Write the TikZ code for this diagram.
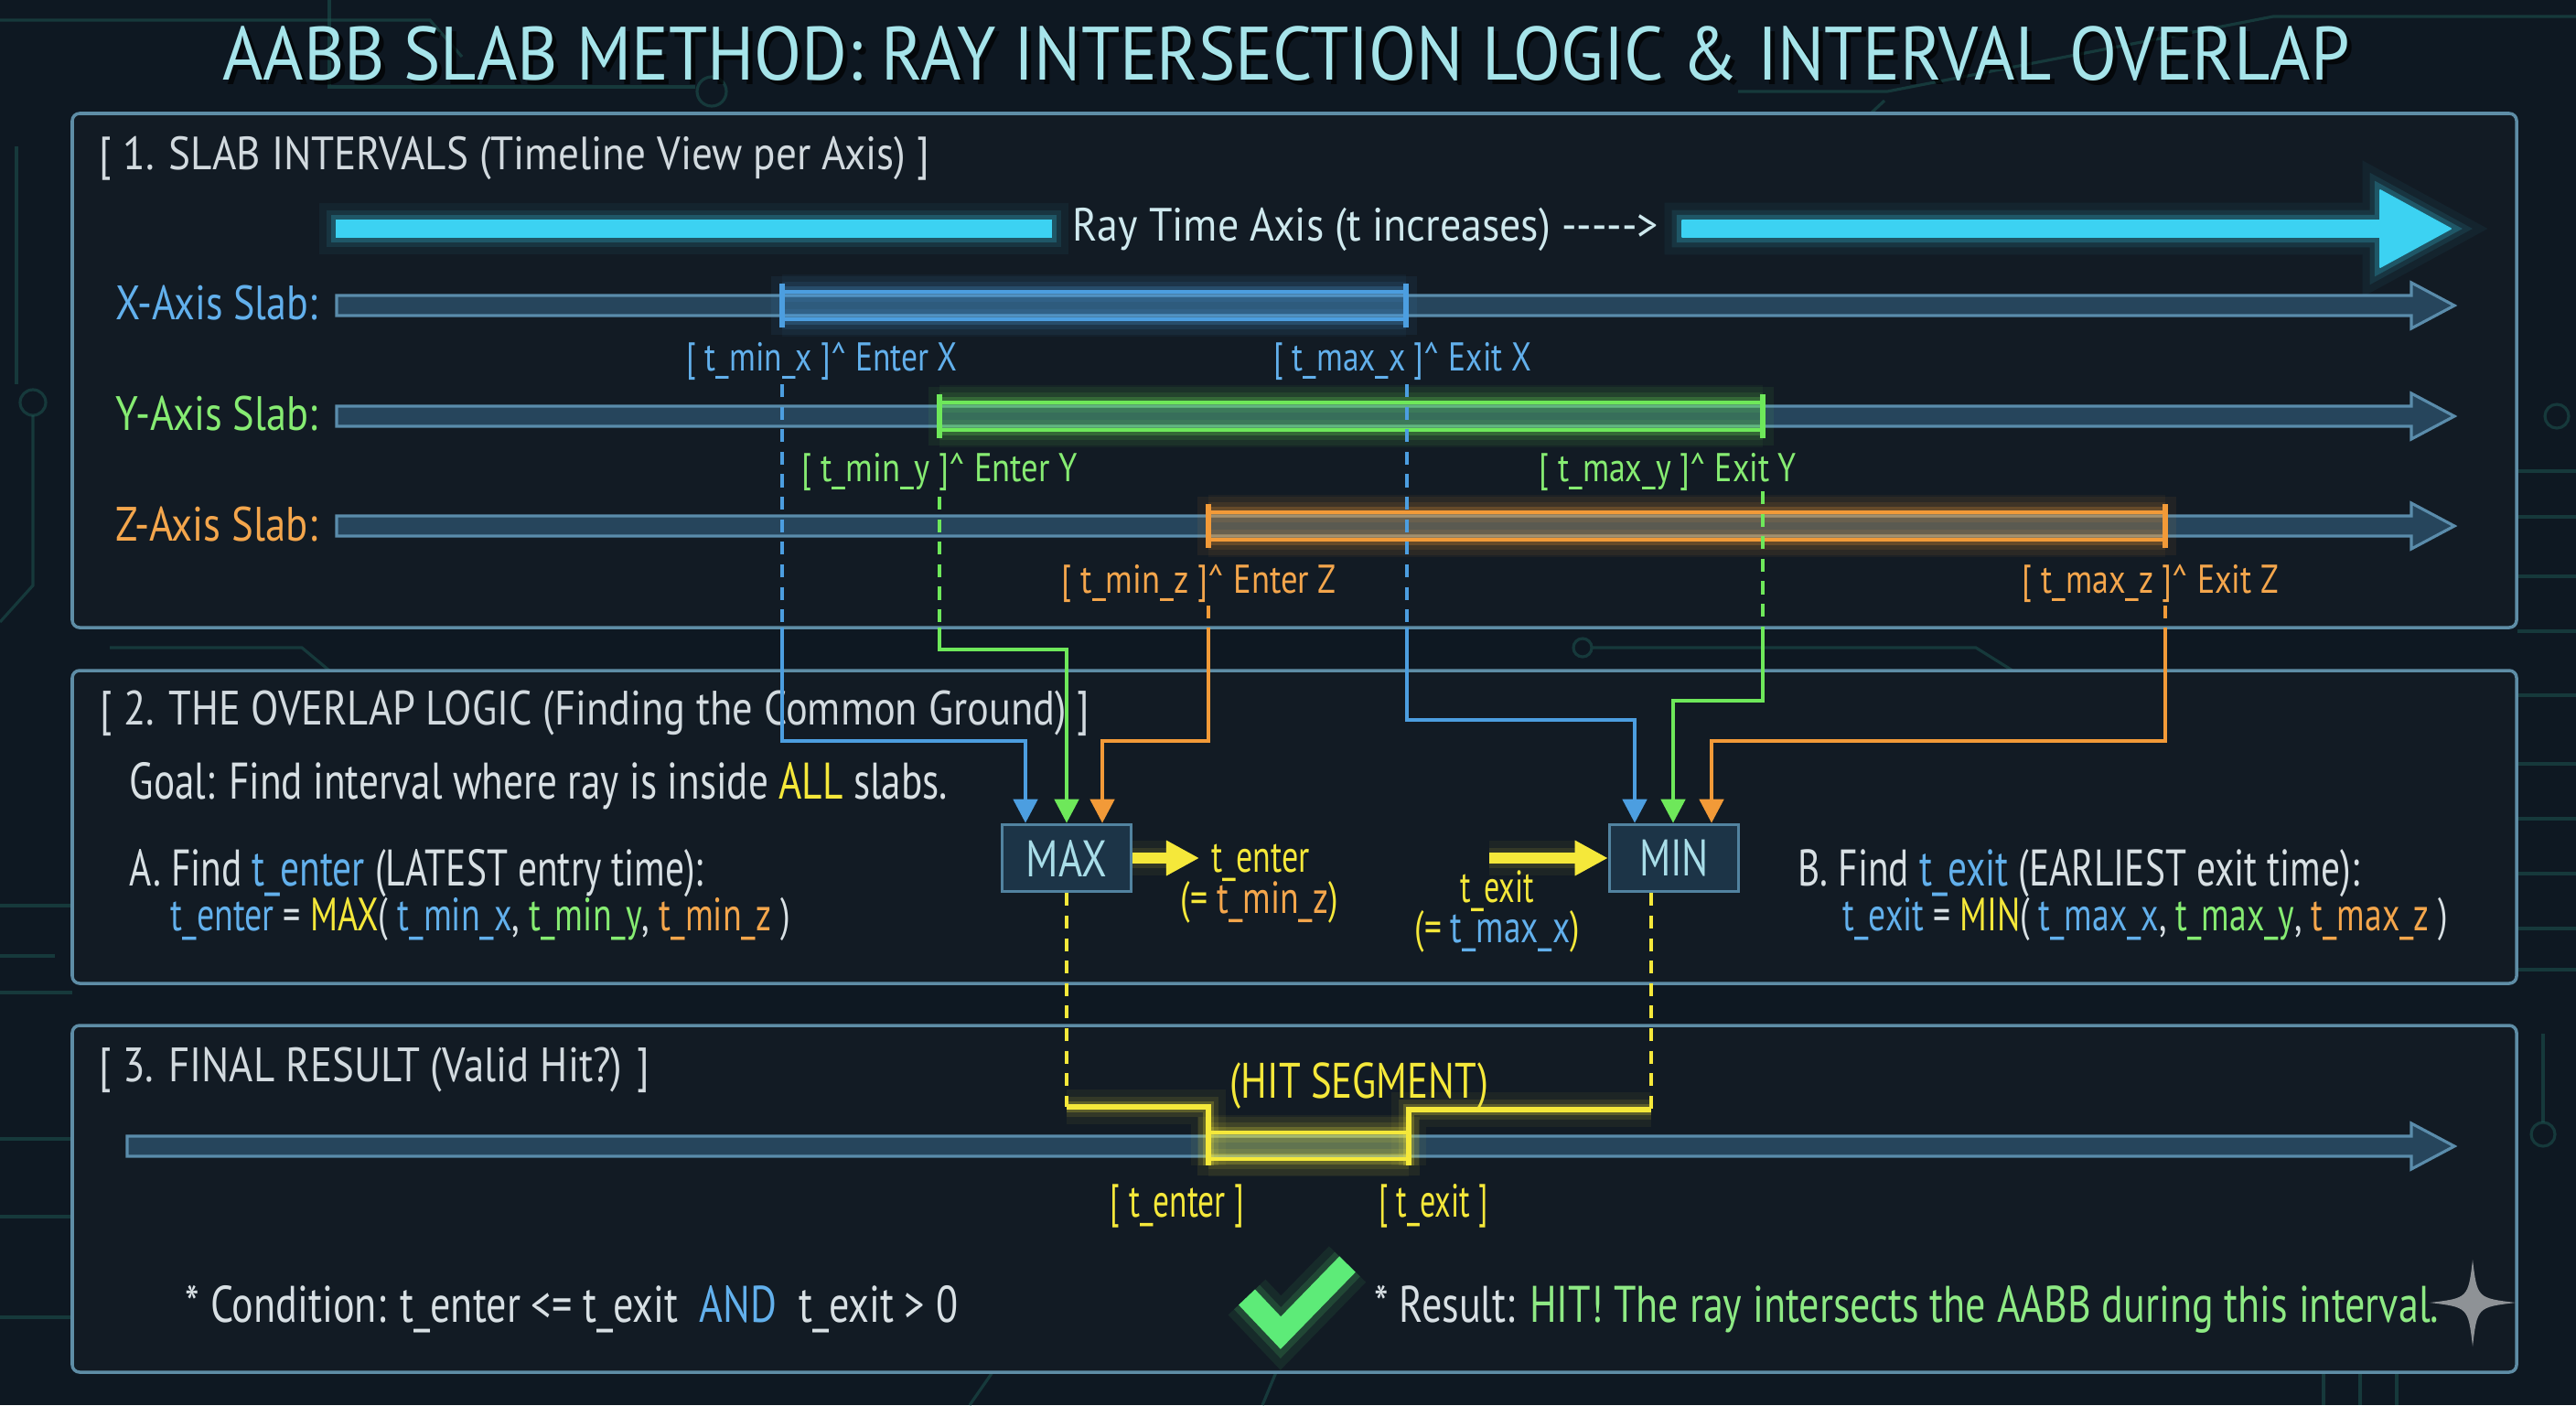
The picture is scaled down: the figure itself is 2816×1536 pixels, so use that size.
\documentclass[tikz,border=0pt]{standalone}
\usepackage{fontspec}
\usepackage{graphicx}
\setmainfont{PT Sans}
\usetikzlibrary{arrows.meta}
\definecolor{bg}{HTML}{0E1822}
\definecolor{cTrace}{HTML}{1F5A55}
\definecolor{cPanel}{HTML}{121B24}
\definecolor{cPanelB}{HTML}{5E8DA6}
\definecolor{cBar}{HTML}{26455C}
\definecolor{cBarB}{HTML}{5A8CAB}
\definecolor{cTitle}{HTML}{A6E4EA}
\definecolor{cHead}{HTML}{D2DADF}
\definecolor{cTxt}{HTML}{D8E0E4}
\definecolor{cX}{HTML}{4C9EE0}
\definecolor{cXt}{HTML}{62B0EC}
\definecolor{cY}{HTML}{6EE85A}
\definecolor{cYt}{HTML}{86EC72}
\definecolor{cZ}{HTML}{F29A38}
\definecolor{cZt}{HTML}{F4A64C}
\definecolor{cYel}{HTML}{F5E83A}
\definecolor{cRay}{HTML}{3CD2F2}
\definecolor{cRayT}{HTML}{CFE9EE}
\definecolor{cBox}{HTML}{1C3447}
\definecolor{cBoxB}{HTML}{5283A0}
\definecolor{cBoxT}{HTML}{A8DDE8}
\definecolor{cRes}{HTML}{8EEA84}
\definecolor{cCheck}{HTML}{5DEB78}
\definecolor{cStar}{HTML}{8E9296}
\newsavebox\fitbox
\newcommand\fitw[2]{\sbox\fitbox{#2}\pgfmathsetmacro\fitfac{#1*0.284528/\the\wd\fitbox}\scalebox{\fitfac}[1]{\usebox\fitbox}}
\newcommand\fsz[1]{\fontsize{#1}{#1}\selectfont}
\newcommand\slabbar[2]{\draw[bar] (#2,{#1-11}) -- (2636,{#1-11}) -- (2636,{#1-25}) -- (2683,#1) -- (2636,{#1+25}) -- (2636,{#1+11}) -- (#2,{#1+11}) -- cycle;}
\newcommand\slabint[4]{%
  \fill[#1, opacity=.07] ({#2-12},{#4-32}) rectangle ({#3+12},{#4+32});
  \fill[#1, opacity=.16] (#2,{#4-15}) rectangle (#3,{#4+15});
  \draw[#1, line width=1.3pt, glow=#1] (#2,{#4-15}) -- (#3,{#4-15}) (#2,{#4+15}) -- (#3,{#4+15});
  \draw[#1, line width=1.6pt] (#2,{#4-24}) -- (#2,{#4+24}) (#3,{#4-24}) -- (#3,{#4+24});}
\begin{document}
\begin{tikzpicture}[x=0.01cm,y=-0.01cm,
  panel/.style={draw=cPanelB, line width=1pt, fill=cPanel, rounded corners=0.08cm},
  bar/.style={draw=cBarB, line width=0.9pt, fill=cBar},
  txt/.style={inner sep=0pt, text=cTxt, anchor=base west},
  glow/.style={preaction={draw=#1,line width=11pt,draw opacity=.05},preaction={draw=#1,line width=6.5pt,draw opacity=.1},preaction={draw=#1,line width=3.5pt,draw opacity=.22}},
  dashline/.style={draw=#1, line width=1pt, dash pattern=on 4pt off 3pt},
  conn/.style={draw=#1, line width=1.3pt, -{Triangle[length=2.6mm,width=2.6mm]}},
  yarrow/.style={draw=cYel, line width=3.4pt, -{Triangle[length=3.6mm,width=3.6mm]}, glow=cYel},
  opbox/.style={draw=cBoxB, line width=1pt, fill=cBox, minimum width=1.41cm, minimum height=0.73cm, inner sep=0pt, text=cBoxT, font=\fsz{16}},
]
\useasboundingbox (0,0) rectangle (2816,1536);
\fill[bg] (0,0) rectangle (2816,1536);
% background circuit traces
\begin{scope}[draw=cTrace, line width=0.9pt, draw opacity=.5]
  \draw (0,22) -- (470,22) -- (505,62);
  \draw (360,0) -- (360,95) -- (760,95);
  \draw (778,100) circle (16);
  \draw (18,160) -- (18,420);
  \draw (36,440) circle (14);
  \draw (36,454) -- (36,640) -- (0,680);
  \draw (0,990) -- (79,990);
  \draw (0,1045) -- (60,1045);
  \draw (0,1085) -- (79,1085);
  \draw (0,1245) -- (79,1245);
  \draw (0,1330) -- (79,1330);
  \draw (0,1440) -- (79,1440);
  \draw (120,708) -- (330,708) -- (360,733);
  \draw (2816,18) -- (2485,18) -- (2063,100) -- (1900,100);
  \draw (2060,110) -- (2045,124);
  \draw (2752,515) -- (2816,515);
  \draw (2752,565) -- (2816,565);
  \draw (2752,630) -- (2816,630);
  \draw (2752,690) -- (2816,690);
  \draw (2752,760) -- (2816,760);
  \draw (2752,835) -- (2816,835);
  \draw (2752,895) -- (2816,895);
  \draw (2752,955) -- (2816,955);
  \draw (2752,1015) -- (2816,1015);
  \draw (2752,1060) -- (2816,1060);
  \draw (2795,455) circle (13);
  \draw (2780,1240) circle (13);
  \draw (2780,1227) -- (2780,1130);
  \draw (1730,708) circle (10) (1740,708) -- (2160,708) -- (2200,733);
  \draw (2540,1500) -- (2540,1536) (2580,1500) -- (2580,1536) (2620,1500) -- (2620,1536);
  \draw (1060,1536) -- (1085,1500) (1380,1536) -- (1395,1500);
\end{scope}
% title
\node[inner sep=0pt, anchor=base, text=black, opacity=.7] (titleshadow) at (1411,92) {\fsz{23.5}\fitw{2324}{AABB SLAB METHOD: RAY INTERSECTION LOGIC \& INTERVAL OVERLAP}};
\node[inner sep=0pt, anchor=base, text=cTitle] (title) at (1406,87) {\fsz{23.5}\fitw{2324}{AABB SLAB METHOD: RAY INTERSECTION LOGIC \& INTERVAL OVERLAP}};
% panels
\draw[panel] (79,124) rectangle (2751,686);
\draw[panel] (79,733) rectangle (2751,1075);
\draw[panel] (79,1121) rectangle (2751,1500);
% panel 1
\node[txt, text=cHead] (h1) at (108,185) {\fsz{14.5}\fitw{907}{[ 1. SLAB INTERVALS (Timeline View per Axis) ]}};
\node[txt, text=cRayT] (raytxt) at (1172,263) {\fsz{14.5}\fitw{640}{Ray Time Axis (t increases) -{}-{}-{}-{}-{}>}};
\draw[draw=cRay, fill=cRay, line width=0.5pt, glow=cRay] (368,241) rectangle (1149,259);
\draw[draw=cRay, fill=cRay, line width=0.5pt, line join=round, glow=cRay] (1839,241) -- (2602,241) -- (2602,208) -- (2679,250) -- (2602,292) -- (2602,259) -- (1839,259) -- cycle;
\node[txt, text=cXt] (labx) at (126,349) {\fsz{15}\fitw{220}{X-Axis Slab:}};
\node[txt, text=cYt] (laby) at (126,470) {\fsz{15}\fitw{220}{Y-Axis Slab:}};
\node[txt, text=cZt] (labz) at (126,591) {\fsz{15}\fitw{220}{Z-Axis Slab:}};
\slabbar{334}{368}
\slabbar{455}{368}
\slabbar{575}{368}
\slabint{cX}{855}{1537}{334}
\slabint{cY}{1027}{1927}{455}
\slabint{cZ}{1321}{2367}{575}
\node[txt, text=cXt] (lxmin) at (750,405) {\fsz{12.5}\fitw{296}{[ t\_min\_x ]\textasciicircum{} Enter X}};
\node[txt, text=cXt] (lxmax) at (1392,405) {\fsz{12.5}\fitw{281}{[ t\_max\_x ]\textasciicircum{} Exit X}};
\node[txt, text=cYt] (lymin) at (876,526) {\fsz{12.5}\fitw{301}{[ t\_min\_y ]\textasciicircum{} Enter Y}};
\node[txt, text=cYt] (lymax) at (1682,526) {\fsz{12.5}\fitw{281}{[ t\_max\_y ]\textasciicircum{} Exit Y}};
\node[txt, text=cZt] (lzmin) at (1160,648) {\fsz{12.5}\fitw{300}{[ t\_min\_z ]\textasciicircum{} Enter Z}};
\node[txt, text=cZt] (lzmax) at (2210,648) {\fsz{12.5}\fitw{280}{[ t\_max\_z ]\textasciicircum{} Exit Z}};
% connector coordinates
\coordinate (xminA) at (855,420);  \coordinate (xminB) at (855,686);
\coordinate (yminA) at (1027,543); \coordinate (yminB) at (1027,686);
\coordinate (zminA) at (1321,662); \coordinate (zminB) at (1321,686);
\coordinate (xmaxA) at (1538,420); \coordinate (xmaxB) at (1538,686);
\coordinate (ymaxA) at (1927,537); \coordinate (ymaxB) at (1927,686);
\coordinate (zmaxA) at (2367,662); \coordinate (zmaxB) at (2367,686);
\coordinate (mxa) at (1121,810); \coordinate (mya) at (1166,710); \coordinate (mza) at (1205,810);
\coordinate (nxa) at (1787,787); \coordinate (nya) at (1829,766); \coordinate (nza) at (1871,810);
% panel 2
\node[txt, text=cHead] (h2) at (109,792) {\fsz{15}\fitw{1081}{[ 2. THE OVERLAP LOGIC (Finding the Common Ground) ]}};
\node[txt] (goal) at (141,873) {\fsz{16}\fitw{894}{Goal: Find interval where ray is inside \textcolor{cYel}{ALL} slabs.}};
\node[txt] (afind) at (141,968) {\fsz{16}\fitw{627}{A. Find \textcolor{cXt}{t\_enter} (LATEST entry time):}};
\node[txt] (aform) at (186,1017) {\fsz{14.5}\fitw{677}{\textcolor{cXt}{t\_enter} = \textcolor{cYel}{MAX}( \textcolor{cXt}{t\_min\_x}, \textcolor{cYt}{t\_min\_y}, \textcolor{cZt}{t\_min\_z} )}};
\node[txt] (bfind) at (1965,968) {\fsz{16}\fitw{613}{B. Find \textcolor{cXt}{t\_exit} (EARLIEST exit time):}};
\node[txt] (bform) at (2014,1017) {\fsz{14.5}\fitw{661}{\textcolor{cXt}{t\_exit} = \textcolor{cYel}{MIN}( \textcolor{cXt}{t\_max\_x}, \textcolor{cYt}{t\_max\_y}, \textcolor{cZt}{t\_max\_z} )}};
\node[opbox] (maxbox) at (1166,938) {\fitw{88}{MAX}};
\node[opbox] (minbox) at (1830,938) {\fitw{76}{MIN}};
\node[txt, text=cYel] (tenter) at (1324,953) {\fsz{14}\fitw{107}{t\_enter}};
\node[txt, text=cYel] (tminz) at (1290,998) {\fsz{14}\fitw{172}{(= \textcolor{cZt}{t\_min\_z})}};
\node[txt, text=cYel] (texit) at (1596,986) {\fsz{14}\fitw{80}{t\_exit}};
\node[txt, text=cYel] (tmaxx) at (1546,1030) {\fsz{14}\fitw{180}{(= \textcolor{cXt}{t\_max\_x})}};
\coordinate (texitTail) at (1628,938);
% connectors
\draw[dashline=cX] (xminA) -- (xminB);
\draw[dashline=cY] (yminA) -- (yminB);
\draw[dashline=cZ] (zminA) -- (zminB);
\draw[dashline=cX] (xmaxA) -- (xmaxB);
\draw[dashline=cY] (ymaxA) -- (ymaxB);
\draw[dashline=cZ] (zmaxA) -- (zmaxB);
\draw[conn=cX] (xminB) |- (mxa) -- (maxbox.north -| mxa);
\draw[conn=cY] (yminB) |- (mya) -- (maxbox.north -| mya);
\draw[conn=cZ] (zminB) |- (mza) -- (maxbox.north -| mza);
\draw[conn=cX] (xmaxB) |- (nxa) -- (minbox.north -| nxa);
\draw[conn=cY] (ymaxB) |- (nya) -- (minbox.north -| nya);
\draw[conn=cZ] (zmaxB) |- (nza) -- (minbox.north -| nza);
\draw[yarrow, shorten >=1.3mm] (maxbox.east) -- (tenter.west |- maxbox.east);
\draw[yarrow] (texitTail) -- (minbox.west);
% panel 3
\node[txt, text=cHead] (h3) at (108,1182) {\fsz{15}\fitw{601}{[ 3. FINAL RESULT (Valid Hit?) ]}};
\slabbar{1253}{139}
\coordinate (hitL) at (1166,1210);
\coordinate (hitTL) at (1321,1274);
\coordinate (hitTR) at (1540,1274);
\coordinate (hitR) at (1805,1213);
\fill[cYel, opacity=.07] (1309,1221) rectangle (1552,1285);
\fill[cYel, opacity=.2] (1321,1238) rectangle (1540,1267);
\draw[cYel, line width=1.4pt, glow=cYel] (1321,1238) -- (1540,1238) (1321,1267) -- (1540,1267);
\draw[dashline=cYel] (maxbox.south) -- (hitL);
\draw[dashline=cYel] (minbox.south -| hitR) -- (hitR);
\draw[cYel, line width=1.6pt, glow=cYel] (hitL) -| (hitTL);
\draw[cYel, line width=1.6pt, glow=cYel] (hitTR) |- (hitR);
\node[inner sep=0pt, anchor=base, text=cYel] (hitseg) at (1486,1200) {\fsz{15.5}\fitw{282}{(HIT SEGMENT)}};
\node[inner sep=0pt, anchor=base, text=cYel] (lenter) at (1287,1330) {\fsz{14.5}\fitw{146}{[ t\_enter ]}};
\node[inner sep=0pt, anchor=base, text=cYel] (lexit) at (1567,1330) {\fsz{14.5}\fitw{119}{[ t\_exit ]}};
\node[txt] (cond) at (202,1445) {\fsz{16}\fitw{844}{* Condition: t\_enter <= t\_exit \ \textcolor{cXt}{AND} \ t\_exit > 0}};
\node[txt] (res) at (1502,1445) {\fsz{16}\fitw{1163}{* Result: \textcolor{cRes}{HIT! The ray intersects the AABB during this interval.}}};
\draw[cCheck, line width=7pt, line join=miter, preaction={draw=cCheck,line width=16pt,draw opacity=.08}, preaction={draw=cCheck,line width=11pt,draw opacity=.15}] (1363,1418) -- (1400,1457) -- (1473,1382);
\fill[cStar] (2703,1377) .. controls (2708,1419) .. (2750,1424) .. controls (2708,1429) .. (2703,1472) .. controls (2698,1429) .. (2656,1424) .. controls (2698,1419) .. (2703,1377);
\end{tikzpicture}
\end{document}
